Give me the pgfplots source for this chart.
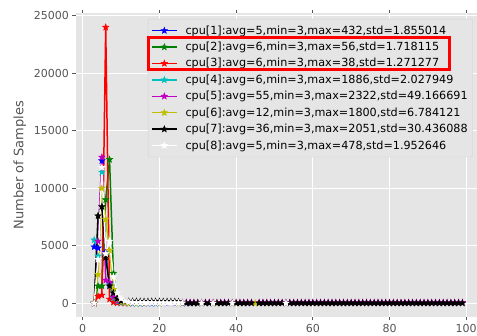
\documentclass[border=0pt]{standalone}
\usepackage{fontspec}
\setmainfont{DejaVu Sans}
\usepackage{pgfplots}
\pgfplotsset{compat=1.18}
\definecolor{bgc}{RGB}{229,229,229}
\definecolor{legc}{RGB}{210,210,210}
\definecolor{tickc}{RGB}{85,85,85}
\definecolor{mblue}{RGB}{0,0,255}
\definecolor{mgreen}{RGB}{0,128,0}
\definecolor{mred}{RGB}{255,0,0}
\definecolor{mcyan}{RGB}{0,191,191}
\definecolor{mmag}{RGB}{191,0,191}
\definecolor{myel}{RGB}{191,191,0}
\pgfdeclareplotmark{fstar}{%
\pgfpathmoveto{\pgfpointpolar{90}{\pgfplotmarksize}}%
\pgfpathlineto{\pgfpointpolar{126}{0.42\pgfplotmarksize}}%
\pgfpathlineto{\pgfpointpolar{162}{\pgfplotmarksize}}%
\pgfpathlineto{\pgfpointpolar{198}{0.42\pgfplotmarksize}}%
\pgfpathlineto{\pgfpointpolar{234}{\pgfplotmarksize}}%
\pgfpathlineto{\pgfpointpolar{270}{0.42\pgfplotmarksize}}%
\pgfpathlineto{\pgfpointpolar{306}{\pgfplotmarksize}}%
\pgfpathlineto{\pgfpointpolar{342}{0.42\pgfplotmarksize}}%
\pgfpathlineto{\pgfpointpolar{18}{\pgfplotmarksize}}%
\pgfpathlineto{\pgfpointpolar{54}{0.42\pgfplotmarksize}}%
\pgfpathclose
\pgfusepathqfillstroke}
\begin{document}
\begin{tikzpicture}
\useasboundingbox (0,0) rectangle (477pt,336pt);
\begin{axis}[
 at={(75.8pt,19pt)}, anchor=south west,
 scale only axis, width=405pt, height=303.5pt,
 xmin=-1.8, xmax=103.8, ymin=-1200, ymax=25200,
 axis background/.style={fill=bgc},
 axis line style={draw=none},
 grid=major, major grid style={white, line width=0.9pt},
 xtick={0,20,40,60,80,100}, ytick={0,5000,10000,15000,20000,25000},
 tick align=outside, major tick length=3.5pt,
 tick style={draw=tickc, line width=0.8pt},
 ticklabel style={font=\fontsize{11}{13}\selectfont, text=tickc},
 /pgf/number format/1000 sep={},
 /pgf/number format/assume math mode=true,
 scaled y ticks=false,
 ylabel={Number of Samples},
 ylabel style={font=\fontsize{13}{15}\selectfont, text=tickc, at={(axis description cs:-0.138,0.5)}, anchor=center},
 legend style={at={(axis description cs:0.178,0.982)}, anchor=north west, fill=bgc, draw=legc, rounded corners=2pt, font=\fontsize{11.2}{13}\selectfont, row sep=2.4pt, column sep=6pt, inner xsep=3pt, inner ysep=4.5pt},
 legend cell align=left,
 legend image code/.code={\draw[line width=1.5pt, mark repeat=2, mark phase=2] plot coordinates {(0pt,0pt)(12.5pt,0pt)(25pt,0pt)};},
 every axis plot/.append style={line width=1.5pt, mark=fstar, mark size=3.2pt, mark options={line width=0.6pt}},
]
\addplot[color=mblue] coordinates {(3,4900)(4,4800)(5,12400)(6,4400)(7,1700)(8,520)(9,180)(10,80)(11,40)(12,25)(13,15)(14,10)(15,8)(16,6)(17,5)(18,4)(19,3)(20,3)(22,2)(24,2)(26,1)(28,1)(30,1)};
\addlegendentry{cpu[1]:avg=5,min=3,max=432,std=1.855014}
\addplot[color=mgreen] coordinates {(3,0)(4,1500)(5,1500)(6,9000)(7,12500)(8,2600)(9,350)(10,100)(11,40)(12,20)(13,10)(14,6)(15,4)(16,3)(18,2)(20,1)};
\addlegendentry{cpu[2]:avg=6,min=3,max=56,std=1.718115}
\addplot[color=mred] coordinates {(3,0)(4,600)(5,700)(6,24000)(7,350)(8,80)(9,25)(10,10)(11,5)(12,3)(14,2)(16,1)};
\addlegendentry{cpu[3]:avg=6,min=3,max=38,std=1.271277}
\addplot[color=mcyan] coordinates {(3,5500)(4,4100)(5,11400)(6,4200)(7,1600)(8,450)(9,150)(10,60)(11,30)(12,15)(13,10)(14,6)(15,4)(16,3)(18,2)(20,1)};
\addlegendentry{cpu[4]:avg=6,min=3,max=1886,std=2.027949}
\addplot[color=mmag] coordinates {(3,0)(4,5400)(5,12700)(6,2000)(7,1800)(8,550)(9,220)(10,120)(11,80)(12,70)(13,60)(14,60)(15,60)(16,60)(17,60)(18,60)(19,60)(20,60)(21,60)(22,60)(23,60)(24,60)(25,60)(26,60)(27,60)(28,60)(29,60)(30,60)(31,60)(32,60)(33,60)(34,60)(35,60)(36,60)(37,60)(38,60)(39,60)(40,60)(41,60)(42,60)(43,60)(44,60)(46,60)(47,60)(48,60)(49,60)(50,60)(51,60)(52,60)(53,60)(54,60)(55,60)(56,60)(57,60)(58,60)(59,60)(60,60)(61,60)(62,60)(63,60)(64,60)(65,60)(66,60)(67,60)(68,60)(69,60)(70,60)(71,60)(72,60)(73,60)(74,60)(75,60)(76,60)(77,60)(78,60)(79,60)(80,60)(81,60)(82,60)(83,60)(84,60)(85,60)(86,60)(87,60)(88,60)(89,60)(90,60)(91,60)(92,60)(93,60)(94,60)(95,60)(96,60)(97,60)(98,60)(99,60)};
\addlegendentry{cpu[5]:avg=55,min=3,max=2322,std=49.166691}
\addplot[color=myel] coordinates {(3,0)(4,2500)(5,10000)(6,7300)(7,4600)(8,1200)(9,350)(10,120)(11,60)(12,30)(14,15)(16,10)(20,5)(25,5)(30,5)(35,5)(40,5)(45,5)};
\addlegendentry{cpu[6]:avg=12,min=3,max=1800,std=6.784121}
\addplot[color=black] coordinates {(3,0)(4,7600)(5,8400)(6,4000)(7,1500)(8,900)(9,400)(10,200)(11,170)(12,160)(13,160)(14,160)(15,150)(16,150)(17,150)(18,150)(19,150)(20,150)(21,140)(22,140)(23,140)(24,140)(25,130)(26,10)(27,10)(28,10)(29,10)(30,10)(31,10)(32,10)(33,10)(34,10)(35,10)(36,10)(37,10)(38,10)(39,10)(40,10)(41,10)(42,10)(43,10)(44,10)(46,10)(47,10)(48,10)(49,10)(50,10)(51,10)(52,10)(53,10)(54,10)(55,10)(56,10)(57,10)(58,10)(59,10)(60,10)(61,10)(62,10)(63,10)(64,10)(65,10)(66,10)(67,10)(68,10)(69,10)(70,10)(71,10)(72,10)(73,10)(74,10)(75,10)(76,10)(77,10)(78,10)(79,10)(80,10)(81,10)(82,10)(83,10)(84,10)(85,10)(86,10)(87,10)(88,10)(89,10)(90,10)(91,10)(92,10)(93,10)(94,10)(95,10)(96,10)(97,10)(98,10)(99,10)};
\addlegendentry{cpu[7]:avg=36,min=3,max=2051,std=30.436088}
\addplot[color=white] coordinates {(3,0)(4,3800)(5,11800)(6,4300)(7,5400)(8,2300)(9,900)(10,400)(11,200)(12,100)(13,60)(14,40)(15,40)(16,35)(17,35)(18,35)(19,30)(20,30)(21,30)(22,30)(23,30)(24,30)(25,30)(26,20)(31,10)(34,10)(39,10)(53,10)};
\addlegendentry{cpu[8]:avg=5,min=3,max=478,std=1.952646}
\end{axis}
\draw[red, line width=2.7pt] (148.7pt,298.7pt) rectangle (449.5pt,266.3pt);
\end{tikzpicture}
\end{document}
